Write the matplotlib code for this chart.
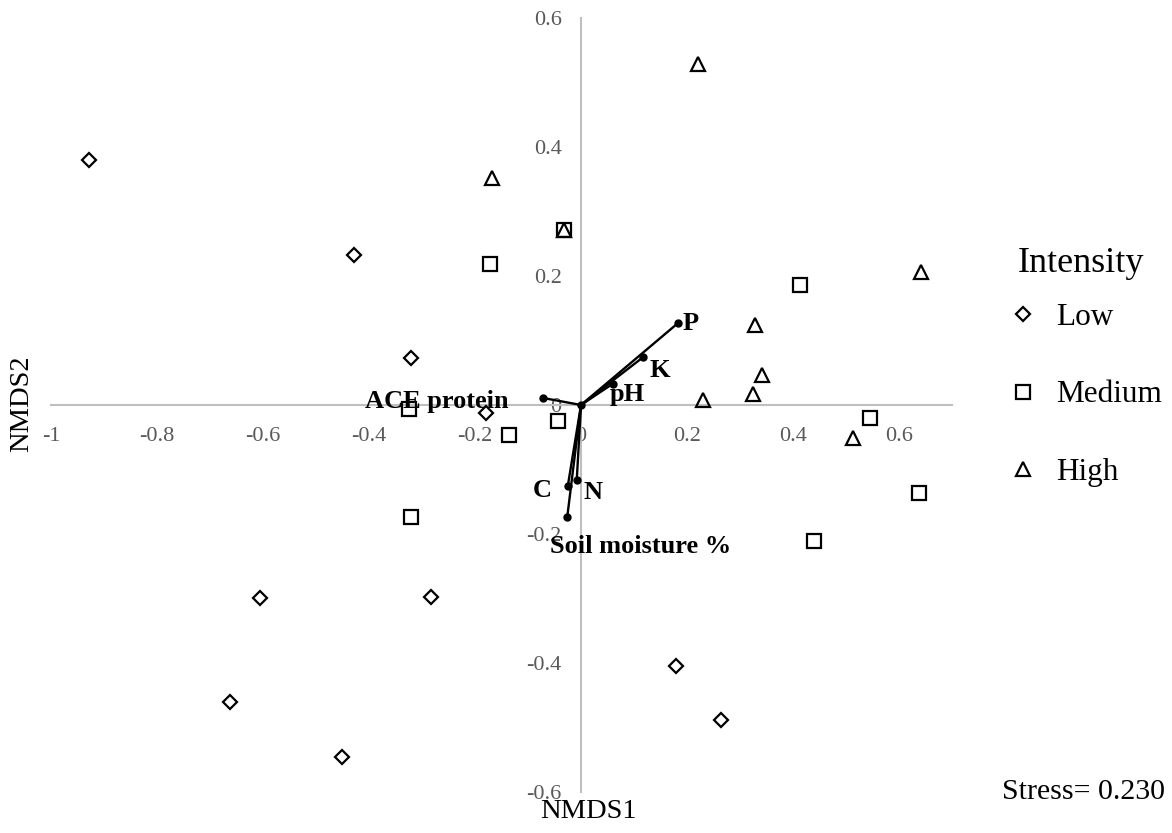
import matplotlib
matplotlib.use("Agg")
import matplotlib.pyplot as plt

plt.rcParams["font.family"] = ["Liberation Serif", "DejaVu Serif"]

# NMDS site scores by grazing intensity
low_x = [-0.929, -0.428, -0.321, -0.179, -0.606, -0.283, -0.662, -0.450, 0.180, 0.264]
low_y = [0.380, 0.233, 0.073, -0.012, -0.299, -0.297, -0.460, -0.546, -0.405, -0.488]

medium_x = [-0.033, -0.171, 0.413, -0.325, -0.136, -0.043, -0.321, 0.545, 0.638, 0.440]
medium_y = [0.271, 0.219, 0.186, -0.006, -0.047, -0.025, -0.174, -0.020, -0.136, -0.211]

high_x = [0.221, -0.168, -0.033, 0.641, 0.328, 0.342, 0.325, 0.230, 0.513]
high_y = [0.529, 0.352, 0.271, 0.206, 0.124, 0.047, 0.017, 0.008, -0.051]

# Environmental fit vectors
vec_names = ["P", "K", "pH", "ACE protein", "C", "N", "Soil moisture %"]
vec_x = [0.183, 0.117, 0.060, -0.072, -0.025, -0.008, -0.026]
vec_y = [0.127, 0.074, 0.033, 0.011, -0.126, -0.116, -0.174]

x_ticks = [-1, -0.8, -0.6, -0.4, -0.2, 0, 0.2, 0.4, 0.6]
y_ticks = [-0.6, -0.4, -0.2, 0, 0.2, 0.4, 0.6]
stress = 0.230

# label placement for the vector names: (x, y, ha)
label_pos = {
    "P": (0.192, 0.127, "left"),
    "K": (0.130, 0.054, "left"),
    "pH": (0.055, 0.016, "left"),
    "ACE protein": (-0.136, 0.005, "right"),
    "C": (-0.055, -0.132, "right"),
    "N": (0.004, -0.136, "left"),
    "Soil moisture %": (-0.058, -0.220, "left"),
}

W, H = 1172, 833
fig = plt.figure(figsize=(W / 100, H / 100), dpi=100)
ax = fig.add_axes([0.0435, 0.0492, 0.7688, 0.9292])
ax.set_xlim(-1, 0.7)
ax.set_ylim(-0.6, 0.6)

axis_grey = "#BFBFBF"
for side in ["top", "right"]:
    ax.spines[side].set_visible(False)
for side in ["left", "bottom"]:
    ax.spines[side].set_position(("data", 0))
    ax.spines[side].set_color(axis_grey)
    ax.spines[side].set_linewidth(1.5)

ax.set_xticks(x_ticks)
ax.set_yticks(y_ticks)
ax.set_xticklabels([f"{t:g}" for t in x_ticks])
ax.set_yticklabels([f"{t:g}" for t in y_ticks])
ax.tick_params(axis="both", length=0, labelsize=16, labelcolor="#595959")
ax.tick_params(axis="x", pad=15.5)
ax.tick_params(axis="y", pad=14)

mk = dict(linestyle="none", markerfacecolor="none", markeredgecolor="black",
          markeredgewidth=1.6, zorder=3)
h_low, = ax.plot(low_x, low_y, marker="D", markersize=7.5, label="Low", **mk)
h_med, = ax.plot(medium_x, medium_y, marker="s", markersize=9.5, label="Medium", **mk)
h_high, = ax.plot(high_x, high_y, marker="^", markersize=9.5, label="High", **mk)

for name, vx, vy in zip(vec_names, vec_x, vec_y):
    ax.plot([0, vx], [0, vy], color="black", linewidth=1.7, zorder=4)
    ax.plot([vx], [vy], marker="o", markersize=5, color="black", zorder=5)
    lx, ly, ha = label_pos[name]
    ax.text(lx, ly, name, ha=ha, va="center", fontsize=19, fontweight="bold",
            color="black", zorder=6)
ax.plot([0], [0], marker="o", markersize=5, color="black", zorder=5)

fig.text(588 / W, 1 - 812 / H, "NMDS1", ha="center", va="center", fontsize=20.5)
fig.text(22 / W, 1 - 404 / H, "NMDS2", ha="center", va="center",
         fontsize=20.5, rotation=90)

# Legend: title drawn separately, entries centred on the middle row
fig.text(1018 / W, 1 - 264 / H, "Intensity", ha="left", va="center", fontsize=26)
fig.legend(handles=[h_low, h_med, h_high],
           loc="center left", bbox_to_anchor=(1015 / W, 1 - 395 / H),
           frameon=False, fontsize=22.5,
           labelspacing=1.55, handlelength=0.5, handletextpad=0.83,
           borderpad=0, borderaxespad=0)

fig.text(1165 / W, 1 - 792 / H, f"Stress= {stress:.3f}", ha="right",
         va="center", fontsize=21.5)

fig.savefig("out.png", dpi=100)
